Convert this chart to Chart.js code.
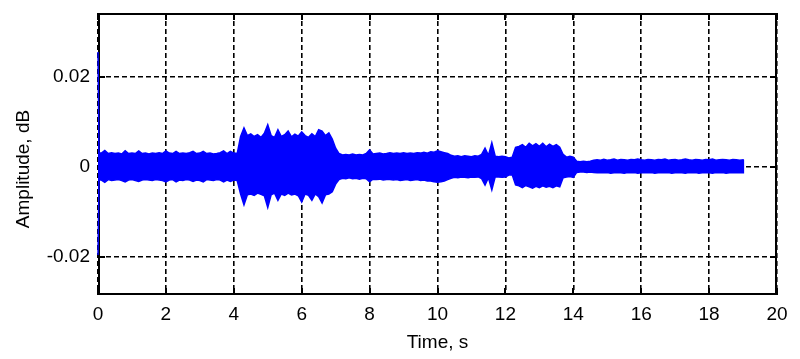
<!DOCTYPE html>
<html>
<head>
<meta charset="utf-8">
<script src="https://cdn.jsdelivr.net/npm/chart.js@4/dist/chart.umd.min.js"></script>
<style>
  body { margin: 0; background: #fff; }
  #zone { width: 800px; height: 359px; position: relative; }
</style>
</head>
<body>
<div id="zone"><canvas id="signalChart"></canvas></div>
<script>
// instants d'echantillonnage de l'enveloppe (s)
const times = [
  0, 0.03,
  0.1, 0.2, 0.3, 0.4, 0.5, 0.6, 0.7, 0.8, 0.9, 1.0,
  1.1, 1.2, 1.3, 1.4, 1.5, 1.6, 1.7, 1.8, 1.9, 2.0,
  2.1, 2.2, 2.3, 2.4, 2.5, 2.6, 2.7, 2.8, 2.9, 3.0,
  3.1, 3.2, 3.3, 3.4, 3.5, 3.6, 3.7, 3.8, 3.9, 4.0,
  4.1, 4.2, 4.3, 4.4, 4.5, 4.6, 4.7, 4.8, 4.9, 5.0,
  5.1, 5.2, 5.3, 5.4, 5.5, 5.6, 5.7, 5.8, 5.9, 6.0,
  6.1, 6.2, 6.3, 6.4, 6.5, 6.6, 6.7, 6.8, 6.9, 7.0,
  7.1, 7.2, 7.3, 7.4, 7.5, 7.6, 7.7, 7.8, 7.9, 8.0,
  8.1, 8.2, 8.3, 8.4, 8.5, 8.6, 8.7, 8.8, 8.9, 9.0,
  9.1, 9.2, 9.3, 9.4, 9.5, 9.6, 9.7, 9.8, 9.9, 10.0,
  10.1, 10.2, 10.3, 10.4, 10.5, 10.6, 10.7, 10.8, 10.9, 11.0,
  11.1, 11.2, 11.3, 11.4, 11.5, 11.6, 11.7, 11.8, 11.9, 12.0,
  12.1, 12.2, 12.3, 12.4, 12.5, 12.6, 12.7, 12.8, 12.9, 13.0,
  13.1, 13.2, 13.3, 13.4, 13.5, 13.6, 13.7, 13.8, 13.9, 14.0,
  14.1, 14.2, 14.3, 14.4, 14.5, 14.6, 14.7, 14.8, 14.9, 15.0,
  15.1, 15.2, 15.3, 15.4, 15.5, 15.6, 15.7, 15.8, 15.9, 16.0,
  16.1, 16.2, 16.3, 16.4, 16.5, 16.6, 16.7, 16.8, 16.9, 17.0,
  17.1, 17.2, 17.3, 17.4, 17.5, 17.6, 17.7, 17.8, 17.9, 18.0,
  18.1, 18.2, 18.3, 18.4, 18.5, 18.6, 18.7, 18.8, 18.9, 19.0,
  19.01
];
// crete haute du signal
const upper = [
  0.0256, 0.0031,
  0.0031, 0.0037, 0.0030, 0.0032, 0.0030, 0.0031, 0.0029, 0.0036, 0.0030, 0.0031,
  0.0030, 0.0036, 0.0030, 0.0031, 0.0029, 0.0031, 0.0030, 0.0032, 0.0030, 0.0036,
  0.0031, 0.0030, 0.0035, 0.0030, 0.0031, 0.0030, 0.0032, 0.0035, 0.0030, 0.0031,
  0.0035, 0.0030, 0.0031, 0.0029, 0.0030, 0.0032, 0.0036, 0.0030, 0.0035, 0.0031,
  0.0030, 0.0068, 0.0087, 0.0070, 0.0074, 0.0068, 0.0072, 0.0066, 0.0075, 0.0094,
  0.0070, 0.0066, 0.0083, 0.0068, 0.0072, 0.0080, 0.0067, 0.0073, 0.0069, 0.0078,
  0.0070, 0.0066, 0.0074, 0.0068, 0.0083, 0.0080, 0.0070, 0.0076, 0.0062, 0.0042,
  0.0030, 0.0027, 0.0028, 0.0027, 0.0029, 0.0027, 0.0028, 0.0027, 0.0030, 0.0038,
  0.0029, 0.0030, 0.0031, 0.0029, 0.0030, 0.0032, 0.0030, 0.0031, 0.0030, 0.0032,
  0.0030, 0.0031, 0.0030, 0.0032, 0.0031, 0.0033, 0.0031, 0.0034, 0.0033, 0.0036,
  0.0034, 0.0032, 0.0030, 0.0026, 0.0024, 0.0025, 0.0023, 0.0025, 0.0024, 0.0023,
  0.0025, 0.0024, 0.0028, 0.0042, 0.0026, 0.0054, 0.0024, 0.0023, 0.0024, 0.0023,
  0.0020, 0.0022, 0.0044, 0.0046, 0.0050, 0.0044, 0.0053, 0.0047, 0.0052, 0.0046,
  0.0053, 0.0045, 0.0051, 0.0046, 0.0050, 0.0044, 0.0028, 0.0022, 0.0024, 0.0022,
  0.0013, 0.0012, 0.0013, 0.0012, 0.0013, 0.0015, 0.0016, 0.0015, 0.0017, 0.0015,
  0.0016, 0.0018, 0.0015, 0.0017, 0.0016, 0.0015, 0.0017, 0.0016, 0.0018, 0.0016,
  0.0015, 0.0017, 0.0016, 0.0015, 0.0017, 0.0016, 0.0018, 0.0015, 0.0016, 0.0017,
  0.0015, 0.0016, 0.0018, 0.0016, 0.0015, 0.0017, 0.0016, 0.0015, 0.0017, 0.0016,
  0.0018, 0.0015, 0.0016, 0.0017, 0.0016, 0.0015, 0.0017, 0.0016, 0.0015, 0.0016,
  0
];
// crete basse du signal
const lower = [
  -0.0196, -0.0029,
  -0.0029, -0.0034, -0.0028, -0.0030, -0.0029, -0.0028, -0.0030, -0.0033, -0.0029, -0.0028,
  -0.0030, -0.0032, -0.0029, -0.0028, -0.0029, -0.0030, -0.0028, -0.0029, -0.0030, -0.0033,
  -0.0029, -0.0028, -0.0033, -0.0029, -0.0030, -0.0028, -0.0029, -0.0032, -0.0029, -0.0030,
  -0.0033, -0.0028, -0.0029, -0.0030, -0.0028, -0.0029, -0.0033, -0.0029, -0.0032, -0.0029,
  -0.0030, -0.0060, -0.0084, -0.0062, -0.0060, -0.0063, -0.0058, -0.0061, -0.0064, -0.0090,
  -0.0062, -0.0058, -0.0074, -0.0060, -0.0063, -0.0058, -0.0062, -0.0060, -0.0064, -0.0078,
  -0.0060, -0.0063, -0.0074, -0.0060, -0.0066, -0.0080, -0.0062, -0.0060, -0.0055, -0.0038,
  -0.0028, -0.0025, -0.0026, -0.0024, -0.0026, -0.0025, -0.0027, -0.0025, -0.0026, -0.0033,
  -0.0027, -0.0028, -0.0027, -0.0029, -0.0028, -0.0028, -0.0029, -0.0028, -0.0030, -0.0029,
  -0.0028, -0.0030, -0.0029, -0.0028, -0.0030, -0.0029, -0.0031, -0.0031, -0.0033, -0.0034,
  -0.0033, -0.0031, -0.0028, -0.0025, -0.0023, -0.0024, -0.0022, -0.0023, -0.0024, -0.0022,
  -0.0023, -0.0022, -0.0026, -0.0040, -0.0024, -0.0051, -0.0022, -0.0022, -0.0023, -0.0022,
  -0.0018, -0.0017, -0.0040, -0.0042, -0.0046, -0.0041, -0.0044, -0.0047, -0.0043, -0.0046,
  -0.0042, -0.0045, -0.0043, -0.0046, -0.0042, -0.0044, -0.0024, -0.0022, -0.0021, -0.0023,
  -0.0012, -0.0011, -0.0011, -0.0012, -0.0011, -0.0012, -0.0013, -0.0012, -0.0013, -0.0012,
  -0.0014, -0.0013, -0.0012, -0.0013, -0.0014, -0.0012, -0.0013, -0.0012, -0.0014, -0.0013,
  -0.0012, -0.0013, -0.0012, -0.0014, -0.0013, -0.0012, -0.0013, -0.0012, -0.0014, -0.0013,
  -0.0012, -0.0013, -0.0014, -0.0012, -0.0013, -0.0012, -0.0014, -0.0013, -0.0012, -0.0013,
  -0.0014, -0.0012, -0.0013, -0.0012, -0.0014, -0.0013, -0.0012, -0.0013, -0.0012, -0.0013,
  0
];
// graduations des axes
const xTicks = [0, 2, 4, 6, 8, 10, 12, 14, 16, 18, 20];
const yTicks = [-0.02, 0, 0.02];

const police = '"Liberation Sans", Arial, sans-serif';
const bleu = '#0000ff';

// cadre noir + petites graduations vers l'interieur (style matlab)
const cadreMatlab = {
  id: 'cadreMatlab',
  beforeDatasetsDraw(chart) {
    const { ctx, chartArea: a, scales: { x, y } } = chart;
    ctx.save();
    ctx.strokeStyle = '#000';
    ctx.lineWidth = 2;
    ctx.setLineDash([]);
    ctx.strokeRect(a.left + 1, a.top + 1, a.right - a.left - 2, a.bottom - a.top - 2);
    ctx.beginPath();
    xTicks.forEach(v => {
      const px = Math.round(x.getPixelForValue(v));
      ctx.moveTo(px, a.bottom); ctx.lineTo(px, a.bottom - 7);
      ctx.moveTo(px, a.top); ctx.lineTo(px, a.top + 7);
    });
    yTicks.forEach(v => {
      const py = Math.round(y.getPixelForValue(v));
      ctx.moveTo(a.left, py); ctx.lineTo(a.left + 7, py);
      ctx.moveTo(a.right, py); ctx.lineTo(a.right - 7, py);
    });
    ctx.stroke();
    ctx.restore();
  },
  afterDraw(chart) {
    // titre de l'axe y, centre sur le zero comme sur l'original
    const ctx = chart.ctx;
    ctx.save();
    ctx.fillStyle = '#000';
    ctx.font = '19px ' + police;
    ctx.translate(24, 169);
    ctx.rotate(-Math.PI / 2);
    ctx.textAlign = 'center';
    ctx.textBaseline = 'middle';
    ctx.fillText('Amplitude, dB', 0, 0);
    ctx.restore();
  }
};

const ctx = document.getElementById('signalChart').getContext('2d');
new Chart(ctx, {
  type: 'line',
  data: {
    datasets: [{
      label: 'haut',
      data: times.map((t, i) => ({ x: t, y: upper[i] })),
      borderColor: bleu,
      backgroundColor: bleu,
      borderWidth: 1.5,
      pointRadius: 0,
      fill: '+1',
      clip: false
    }, {
      label: 'bas',
      data: times.map((t, i) => ({ x: t, y: lower[i] })),
      borderColor: bleu,
      backgroundColor: bleu,
      borderWidth: 1.5,
      pointRadius: 0,
      fill: false,
      clip: false
    }]
  },
  options: {
    responsive: true,
    maintainAspectRatio: false,
    animation: false,
    layout: { padding: { left: 0, top: 13, right: 23, bottom: 0 } },
    plugins: {
      legend: { display: false },
      tooltip: { enabled: false }
    },
    scales: {
      x: {
        type: 'linear',
        min: 0,
        max: 20,
        afterBuildTicks: s => { s.ticks = xTicks.map(v => ({ value: v })); },
        afterFit: s => { s.height = 64; s.paddingLeft = 0; s.paddingRight = 0; },
        grid: { color: '#000', lineWidth: 1.6, drawTicks: false },
        border: { display: false, dash: [5, 3] },
        ticks: { color: '#000', font: { family: police, size: 19 }, padding: 8, maxRotation: 0 },
        title: { display: true, text: 'Time, s', color: '#000', font: { family: police, size: 19 }, padding: { top: 0, bottom: 5 } }
      },
      y: {
        type: 'linear',
        min: -0.0285,
        max: 0.0343,
        afterBuildTicks: s => { s.ticks = yTicks.map(v => ({ value: v })); },
        afterFit: s => { s.width = 98; s.paddingTop = 0; s.paddingBottom = 0; },
        grid: { color: '#000', lineWidth: 1.6, drawTicks: false },
        border: { display: false, dash: [5, 3] },
        ticks: {
          color: '#000',
          font: { family: police, size: 19 },
          padding: 8,
          callback: v => String(v)
        }
      }
    }
  },
  plugins: [cadreMatlab]
});
</script>
</body>
</html>
